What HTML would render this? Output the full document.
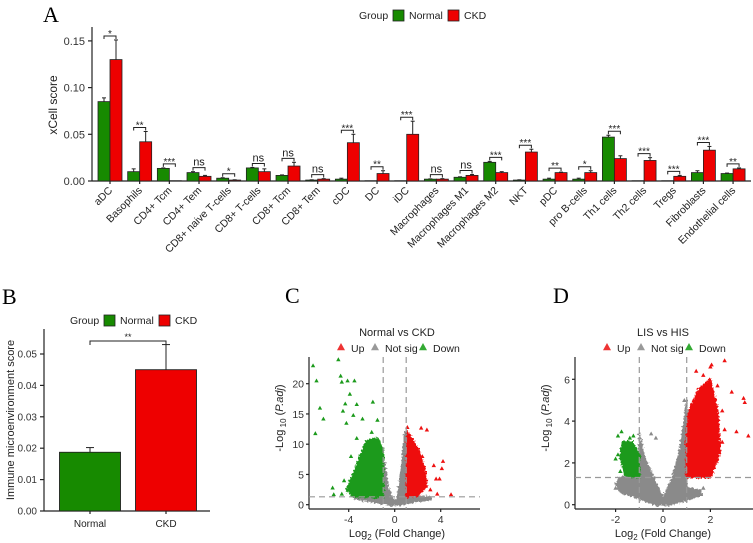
<!DOCTYPE html>
<html><head><meta charset="utf-8"><style>
body{margin:0;background:#fff}
svg{display:block;font-family:"Liberation Sans",sans-serif}
.lab{font-family:"Liberation Serif",serif;font-size:22px}
</style></head><body>
<svg id="s" width="753" height="543" viewBox="0 0 753 543">
<defs><filter id="rough" x="-10%" y="-10%" width="120%" height="120%"><feTurbulence type="fractalNoise" baseFrequency="0.5" numOctaves="2" seed="3" result="n"/><feDisplacementMap in="SourceGraphic" in2="n" scale="5" xChannelSelector="R" yChannelSelector="G"/></filter></defs>
</svg>
<script>
// ---------- Panel A data ----------
const catsA=["aDC","Basophils","CD4+ Tcm","CD4+ Tem","CD8+ naive T-cells","CD8+ T-cells","CD8+ Tcm","CD8+ Tem","cDC","DC","iDC","Macrophages","Macrophages M1","Macrophages M2","NKT","pDC","pro B-cells","Th1 cells","Th2 cells","Tregs","Fibroblasts","Endothelial cells"];
const normalA=[0.085,0.010,0.0135,0.009,0.003,0.014,0.006,0.001,0.002,0.0003,0.0003,0.002,0.004,0.020,0.001,0.002,0.002,0.047,0.0003,0.0003,0.009,0.008];
const ckdA=[0.130,0.042,0.0003,0.005,0.001,0.010,0.016,0.002,0.041,0.008,0.050,0.002,0.006,0.009,0.031,0.009,0.009,0.024,0.022,0.005,0.033,0.013];
const normalErrA=[0.004,0.003,0.0005,0.001,0.0005,0.0005,0.0005,0.0003,0.001,0,0,0.0003,0.0005,0.001,0.0003,0.001,0.001,0.002,0,0,0.002,0.0005];
const ckdErrA=[0.021,0.011,0,0.001,0.0003,0.003,0.004,0.0005,0.009,0.003,0.014,0.0005,0.001,0.001,0.003,0.0005,0.002,0.003,0.003,0.001,0.004,0.001];
const sigA=["*","**","***","ns","*","ns","ns","ns","***","**","***","ns","ns","***","***","**","*","***","***","***","***","**"];
const ticksA=[0,0.05,0.10,0.15];
const tickLabA=["0.00","0.05","0.10","0.15"];
// ---------- Panel B data ----------
const catsB=["Normal","CKD"];
const valsB=[0.0187,0.045];
const errB=[0.0015,0.008];
const ticksB=[0,0.01,0.02,0.03,0.04,0.05];
const tickLabB=["0.00","0.01","0.02","0.03","0.04","0.05"];
// ---------- Panel C data ----------
const cGreyRegion=[[-3.5,1.0],[-3,1.3],[-1,1.3],[-1,8],[-0.6,3],[-0.2,0.8],[0.2,0.8],[0.6,6],[0.9,12],[1,12],[1,1.3],[3,1.3],[3.2,0.9],[1.5,0.4],[0.5,0],[-0.5,0],[-2,0.5]];
const cGreenRegion=[[-3.6,1.3],[-1,1.3],[-1,9],[-1.5,11],[-2.5,10.5],[-3,8],[-3.6,5],[-4.2,2.5]];
const cRedRegion=[[1,1.3],[2,1.5],[2.8,3],[2.6,6],[2.1,9],[1.5,11],[1.1,12]];
const cGreenPts=[[-7.1,23],[-6.8,20.5],[-6.5,16],[-6.2,14.2],[-6.9,11.8],[-4.9,24],[-4.7,21.3],[-4.6,20.3],[-4.1,20.5],[-3.5,20.5],[-3.9,18.3],[-4.3,16.7],[-3.3,16.6],[-1.9,17],[-4.5,15.5],[-3.6,14.8],[-1.5,14],[-4.2,13.5],[-2.8,14.2],[-5.4,2.8],[-5.3,1.7],[-4.4,4],[-3.8,8],[-2,12],[-3.3,11],[-4.6,1.8],[-4,3]];
const cRedPts=[[1.1,12.8],[2.3,12.7],[2.8,12.4],[3.4,6.5],[4.2,7.2],[3.9,4.3],[3.6,4.3],[3.1,2.5],[3.7,1.8],[4.9,1.7],[4.1,6],[2.4,8]];
const cXTicks=[-4,0,4];const cYTicks=[0,5,10,15,20];
// ---------- Panel D data ----------
const dGreyRegion=[[-2,1.0],[-1.8,1.3],[-1,1.3],[-1,3.4],[-0.8,2.3],[-0.4,1.3],[0,0.3],[0.4,1.3],[0.7,2.5],[0.9,4],[1,5],[1,0.8],[1.6,0.7],[1.6,0.5],[1,0.2],[0.3,0],[-0.3,0],[-1,0.3],[-1.8,0.6]];
const dGreenRegion=[[-1,1.3],[-1.6,1.4],[-1.8,2.3],[-1.7,3],[-1.3,3],[-1,2.4]];
const dRedRegion=[[1,1.3],[2,1.3],[2.4,2.5],[2.3,4.5],[2,6],[1.5,5.5],[1.1,4.5],[1,3.5]];
const dRedPts=[[2.6,6.9],[2,6.6],[2.05,6.7],[1.7,6.2],[1.4,6.4],[3.4,5.1],[3.45,4.9],[2.9,5.4],[3.6,3.3],[3.1,3.5],[2.5,4.5],[2.6,3.6],[2.3,5.7],[2.2,2],[2.5,3]];
const dGreenPts=[[-1.9,3.3],[-1.75,3.5],[-1.9,2.4],[-1.8,1.6],[-1.4,3.2],[-1.25,3.3],[-2,2.2]];
const dGreyPts=[[-2,0.8],[-0.5,3.4],[0.9,5],[1.7,0.8],[1.6,0.5],[-0.3,3.2]];
const dXTicks=[-2,0,2];const dYTicks=[0,2,4,6];

const S=document.getElementById('s');const NS='http://www.w3.org/2000/svg';
function el(t,a,txt){const e=document.createElementNS(NS,t);for(const k in a)e.setAttribute(k,a[k]);if(txt!==undefined)e.textContent=txt;S.appendChild(e);return e;}
function line(x1,y1,x2,y2,c,w,d){return el('line',{x1,y1,x2,y2,stroke:c||'#222','stroke-width':w||1.2,'stroke-dasharray':d||''});}
const GREEN='#178a00',RED='#ee0000';

// ===== Panel A =====
let t=el('text',{x:43,y:22,class:'lab'},'A');
const ay=v=>181-v/0.05*46.7;const ax=i=>110+i*29.67;
line(92,27,92,181);line(92,181,751,181);
ticksA.forEach((v,i)=>{line(88,ay(v),92,ay(v));const e=el('text',{x:85,y:ay(v)+4,'text-anchor':'end','font-size':11,fill:'#333'},tickLabA[i]);});
t=el('text',{transform:'translate(57,105) rotate(-90)','text-anchor':'middle','font-size':12,fill:'#222'},'xCell score');
catsA.forEach((c,i)=>{
 const cx=ax(i),bw=12;
 let r=el('rect',{x:cx-bw,y:ay(normalA[i]),width:bw,height:181-ay(normalA[i]),fill:GREEN,stroke:'#222','stroke-width':0.8});
 
 r=el('rect',{x:cx,y:ay(ckdA[i]),width:bw,height:181-ay(ckdA[i]),fill:RED,stroke:'#222','stroke-width':0.8});
 
 const tn=normalA[i]+normalErrA[i],tc=ckdA[i]+ckdErrA[i];
 if(normalErrA[i]>0){line(cx-6,ay(normalA[i]),cx-6,ay(tn),'#222',1);line(cx-8,ay(tn),cx-4,ay(tn),'#222',1);}
 if(ckdErrA[i]>0){line(cx+6,ay(ckdA[i]),cx+6,ay(tc),'#222',1);line(cx+4,ay(tc),cx+8,ay(tc),'#222',1);}
 const by=ay(Math.max(tn,tc))-4;
 const p=el('path',{d:`M${cx-6} ${by+3}V${by}H${cx+6}V${by+3}`,fill:'none',stroke:'#222','stroke-width':1});
 
 const st=el('text',{x:cx,y:sigA[i]=='ns'?by-2:by+1,'text-anchor':'middle','font-size':sigA[i]=='ns'?11:10,fill:'#222'},sigA[i]);
 
 line(cx,181,cx,184);
 const tl=el('text',{transform:`translate(${cx+3},${191}) rotate(-45)`,'text-anchor':'end','font-size':10.5,fill:'#222'},c);
 
});
function legend(x,y,prefix){
 let e=el('text',{x:x,y:y+4,'font-size':10.5,fill:'#222'},'Group');
 e=el('rect',{x:x+34,y:y-5,width:11,height:11,fill:GREEN,stroke:'#222','stroke-width':0.8});
 e=el('text',{x:x+50,y:y+4,'font-size':10.5,fill:'#222'},'Normal');
 e=el('rect',{x:x+89,y:y-5,width:11,height:11,fill:RED,stroke:'#222','stroke-width':0.8});
 e=el('text',{x:x+105,y:y+4,'font-size':10.5,fill:'#222'},'CKD');
}
legend(359,15,'a');

// ===== Panel B =====
t=el('text',{x:2,y:304,class:'lab'},'B');
const byF=v=>511-v/0.01*31.4;
line(44,329,44,511);line(44,511,210,511);
ticksB.forEach((v,i)=>{line(40,byF(v),44,byF(v));const e=el('text',{x:37,y:byF(v)+3.5,'text-anchor':'end','font-size':10,fill:'#333'},tickLabB[i]);});
t=el('text',{transform:'translate(14,420) rotate(-90)','text-anchor':'middle','font-size':11,fill:'#222'},'Immune microenvironment score');
const bxc=[90,166];
catsB.forEach((c,i)=>{
 const r=el('rect',{x:bxc[i]-30.5,y:byF(valsB[i]),width:61,height:511-byF(valsB[i]),fill:i?RED:GREEN,stroke:'#222','stroke-width':0.9});
 
 const tp=valsB[i]+errB[i];line(bxc[i],byF(valsB[i]),bxc[i],byF(tp),'#222',1);line(bxc[i]-4,byF(tp),bxc[i]+4,byF(tp),'#222',1);
 line(bxc[i],511,bxc[i],514);
 const e=el('text',{x:bxc[i],y:527,'text-anchor':'middle','font-size':10,fill:'#222'},c);
});
t=el('path',{d:'M90 345V341H166V345',fill:'none',stroke:'#222','stroke-width':1});
t=el('text',{x:128,y:340,'text-anchor':'middle','font-size':9,fill:'#222'},'**');
legend(70,320,'b');

// ===== Volcano helper =====
function tri(x,y,c,s){s=s||2.2;const p=el('polygon',{points:`${x},${y-s} ${x-s},${y+s*0.8} ${x+s},${y+s*0.8}`,fill:c});return p;}
function volcano(o){
 const X=v=>o.x0+v*o.kx,Y=v=>o.y0-v*o.ky;
 line(o.left,o.top,o.left,o.bottom);line(o.left,o.bottom,o.right,o.bottom);
 o.xt.forEach(v=>{line(X(v),o.bottom,X(v),o.bottom+3);const e=el('text',{x:X(v),y:o.bottom+14,'text-anchor':'middle','font-size':10.5,fill:'#333'},String(v));});
 o.yt.forEach(v=>{line(o.left-3,Y(v),o.left,Y(v));const e=el('text',{x:o.left-5,y:Y(v)+4,'text-anchor':'end','font-size':10.5,fill:'#333'},v);});
 const reg=(pts,c,nm)=>{const p=el('polygon',{points:pts.map(q=>X(q[0])+','+Y(q[1])).join(' '),fill:c,stroke:c,'stroke-width':2,'stroke-linejoin':'round',filter:'url(#rough)'});};
 reg(o.grey,'#8a8a8a',o.n+'-not-sig-region');reg(o.green,'#1b9a1b',o.n+'-down-region');reg(o.red,'#ee1111',o.n+'-up-region');
 (o.gp||[]).forEach(q=>{const p=tri(X(q[0]),Y(q[1]),'#8a8a8a');});
 o.greenP.forEach(q=>{const p=tri(X(q[0]),Y(q[1]),'#1b9a1b');});
 o.redP.forEach(q=>{const p=tri(X(q[0]),Y(q[1]),'#ee1111');});
 [-1,1].forEach(v=>{const l=line(X(v),o.top,X(v),o.bottom,'#999',1.2,'6,4');});
 const h=line(o.left,Y(1.3),o.right,Y(1.3),'#999',1.2,'6,4');
 let e=el('text',{x:o.tx,y:336,'text-anchor':'middle','font-size':11,fill:'#222'},o.title);
 const lx=o.tx-56;
 [['Up','#ee3333',0],['Not sig','#999',34],['Down','#33aa33',82]].forEach(a=>{const p=tri(lx+a[2],347,a[1],4);const q=el('text',{x:lx+a[2]+10,y:352,'font-size':10.5,fill:'#222'},a[0]);});
 e=el('text',{transform:`translate(${o.left-26},418) rotate(-90)`,'text-anchor':'middle','font-size':11,fill:'#222'});
 e.innerHTML='-Log<tspan font-size="8" dy="3"> 10</tspan><tspan dy="-3"> (</tspan><tspan font-style="italic">P.adj</tspan>)';
 e=el('text',{x:o.tx,y:537,'text-anchor':'middle','font-size':11,fill:'#222'});
 e.innerHTML='Log<tspan font-size="8" dy="3">2</tspan><tspan dy="-3"> (Fold Change)</tspan>';
}
t=el('text',{x:285,y:303,class:'lab'},'C');
volcano({n:'c',x0:394.7,kx:11.5,y0:504.7,ky:6.05,left:309,right:480,top:357,bottom:509,xt:cXTicks,yt:cYTicks,grey:cGreyRegion,green:cGreenRegion,red:cRedRegion,greenP:cGreenPts,redP:cRedPts,title:'Normal vs CKD',tx:397});
t=el('text',{x:553,y:303,class:'lab'},'D');
volcano({n:'d',x0:663,kx:23.7,y0:504.7,ky:20.9,left:575,right:753,top:357,bottom:509,xt:dXTicks,yt:dYTicks,grey:dGreyRegion,green:dGreenRegion,red:dRedRegion,greenP:dGreenPts,redP:dRedPts,gp:dGreyPts,title:'LIS vs HIS',tx:663});
</script>
</body></html>
